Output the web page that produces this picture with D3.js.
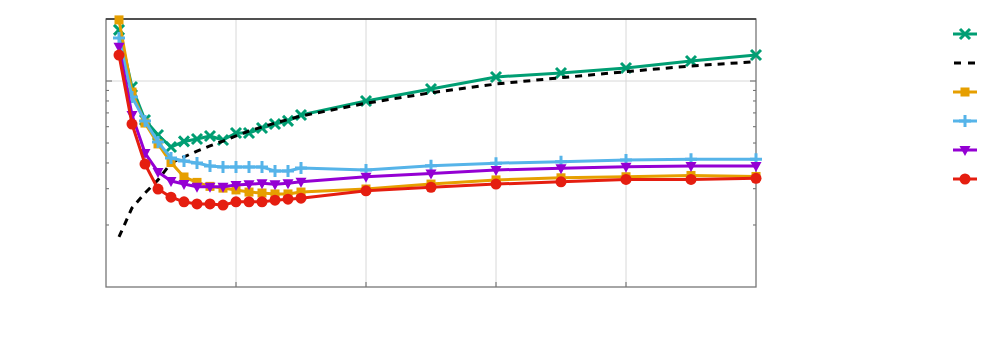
<!DOCTYPE html>
<html lang="en">
<head>
<meta charset="UTF-8">
<script src="https://d3js.org/d3.v7.min.js"></script>
<style>
  body { margin: 0; background: #fff; }
  svg { display: block; font-family: "DejaVu Sans", sans-serif; }
</style>
</head>
<body>
<div id="chart"></div>
<script>
// data (x positions and values per series)
const xs = [1, 2, 3, 4, 5, 6, 7, 8, 9, 10, 11, 12, 13, 14, 15, 20, 25, 30, 35, 40, 45, 50];
const seriesGreen  = [17.7, 9.35, 6.47, 5.47, 4.78, 5.09, 5.23, 5.41, 5.17, 5.59, 5.59, 5.91, 6.18, 6.40, 6.84, 8.00, 9.15, 10.46, 10.94, 11.56, 12.51, 13.37];
const seriesDash   = [1.75, 2.42, 2.86, 3.31, 4.00, 4.28, 4.57, 4.84, 5.11, 5.41, 5.72, 5.98, 6.25, 6.50, 6.76, 7.80, 8.77, 9.67, 10.38, 11.10, 11.83, 12.41];
const seriesOrange = [19.8, 8.84, 6.25, 4.95, 4.02, 3.42, 3.22, 3.08, 3.02, 2.96, 2.89, 2.86, 2.83, 2.83, 2.89, 2.99, 3.16, 3.31, 3.39, 3.43, 3.48, 3.44];
const seriesBlue   = [16.17, 8.36, 6.40, 5.06, 4.23, 4.09, 4.00, 3.87, 3.82, 3.82, 3.82, 3.82, 3.66, 3.66, 3.78, 3.70, 3.88, 3.99, 4.06, 4.14, 4.17, 4.17];
const seriesPurple = [14.67, 6.84, 4.47, 3.62, 3.27, 3.16, 3.07, 3.07, 3.07, 3.13, 3.15, 3.19, 3.15, 3.19, 3.24, 3.43, 3.56, 3.70, 3.77, 3.84, 3.87, 3.87];
const seriesRed    = [13.37, 6.18, 3.95, 2.99, 2.73, 2.59, 2.53, 2.53, 2.50, 2.59, 2.59, 2.59, 2.64, 2.67, 2.70, 2.93, 3.05, 3.16, 3.24, 3.33, 3.33, 3.37];
const xTicks = [0, 10, 20, 30, 40, 50];
const yMinorTicks = [2, 3, 4, 5, 6, 7, 8, 9];

const w = 1000, h = 350;
const padL = 106, padR = 756, padT = 19, padB = 287;

const series = [
  { vals: seriesGreen,  color: "#009e73", mark: "cross" },
  { vals: seriesDash,   color: "#000000", mark: null, dash: "7,6" },
  { vals: seriesOrange, color: "#e69f00", mark: "square" },
  { vals: seriesBlue,   color: "#56b4e9", mark: "plus" },
  { vals: seriesPurple, color: "#9400d3", mark: "tri" },
  { vals: seriesRed,    color: "#e51e10", mark: "circle" }
];

const x = d3.scaleLinear().domain([0, 50]).range([padL, padR]);
const y = d3.scaleLog().domain([1, 20]).range([padB, padT]);

const svg = d3.select("#chart").append("svg")
  .attr("width", w).attr("height", h);

// grid
svg.append("g").selectAll("line")
  .data(xTicks.slice(1, -1))
  .join("line")
  .attr("x1", d => x(d)).attr("x2", d => x(d))
  .attr("y1", padT).attr("y2", padB)
  .attr("stroke", "#d8d8d8").attr("stroke-width", 1);
svg.append("line")
  .attr("x1", padL).attr("x2", padR)
  .attr("y1", y(10)).attr("y2", y(10))
  .attr("stroke", "#d8d8d8").attr("stroke-width", 1);

// ticks (inside the frame)
const tk = svg.append("g").attr("stroke", "#666").attr("stroke-width", 1);
tk.selectAll(".xt")
  .data(xTicks.slice(1, -1))
  .join("line")
  .attr("x1", d => x(d)).attr("x2", d => x(d))
  .attr("y1", padB).attr("y2", padB - 5);
tk.selectAll(".ytl")
  .data(yMinorTicks)
  .join("line")
  .attr("x1", padL).attr("x2", padL + 3)
  .attr("y1", d => y(d)).attr("y2", d => y(d));
tk.selectAll(".ytr")
  .data(yMinorTicks)
  .join("line")
  .attr("x1", padR).attr("x2", padR - 3)
  .attr("y1", d => y(d)).attr("y2", d => y(d));
tk.append("line")
  .attr("x1", padL).attr("x2", padL + 6)
  .attr("y1", y(10)).attr("y2", y(10));
tk.append("line")
  .attr("x1", padR).attr("x2", padR - 6)
  .attr("y1", y(10)).attr("y2", y(10));

// frame
svg.append("rect")
  .attr("x", padL).attr("y", padT)
  .attr("width", padR - padL).attr("height", padB - padT)
  .attr("fill", "none").attr("stroke", "#777").attr("stroke-width", 1.3);
svg.append("line")
  .attr("x1", padL).attr("x2", padR).attr("y1", padT).attr("y2", padT)
  .attr("stroke", "#333").attr("stroke-width", 1.3);

function drawMark(g, type, cx, cy, color) {
  if (type === "cross") {
    const s = 5;
    g.append("path")
      .attr("d", `M${cx - s},${cy - s}L${cx + s},${cy + s}M${cx - s},${cy + s}L${cx + s},${cy - s}`)
      .attr("stroke", color).attr("stroke-width", 3).attr("fill", "none");
  } else if (type === "plus") {
    const s = 6;
    g.append("path")
      .attr("d", `M${cx - s},${cy}L${cx + s},${cy}M${cx},${cy - s}L${cx},${cy + s}`)
      .attr("stroke", color).attr("stroke-width", 3).attr("fill", "none");
  } else if (type === "square") {
    g.append("rect")
      .attr("x", cx - 4.5).attr("y", cy - 4.5)
      .attr("width", 9).attr("height", 9)
      .attr("fill", color);
  } else if (type === "circle") {
    g.append("circle")
      .attr("cx", cx).attr("cy", cy).attr("r", 5.5)
      .attr("fill", color);
  } else if (type === "tri") {
    g.append("path")
      .attr("d", `M${cx - 5.5},${cy - 4}L${cx + 5.5},${cy - 4}L${cx},${cy + 6}Z`)
      .attr("fill", color);
  }
}

const line = d3.line().x(d => x(d[0])).y(d => y(d[1]));

series.forEach(s => {
  const pts = xs.map((xv, i) => [xv, s.vals[i]]);
  const g = svg.append("g");
  g.append("path")
    .datum(pts)
    .attr("d", line)
    .attr("fill", "none")
    .attr("stroke", s.color)
    .attr("stroke-width", 3)
    .attr("stroke-dasharray", s.dash || null)
    .attr("stroke-linejoin", "round");
  if (s.mark) {
    pts.forEach(p => drawMark(g, s.mark, x(p[0]), y(p[1]), s.color));
  }
});

// legend (no labels in the reference)
const legY = [34, 63, 92, 121, 150, 179];
series.forEach((s, i) => {
  const g = svg.append("g");
  const ly = legY[i];
  g.append("line")
    .attr("x1", s.dash ? 954 : 953).attr("x2", s.dash ? 975 : 977)
    .attr("y1", ly).attr("y2", ly)
    .attr("stroke", s.color).attr("stroke-width", 3)
    .attr("stroke-dasharray", s.dash ? "7,7" : null);
  if (s.mark) drawMark(g, s.mark, 965, ly, s.color);
});
</script>
</body>
</html>
